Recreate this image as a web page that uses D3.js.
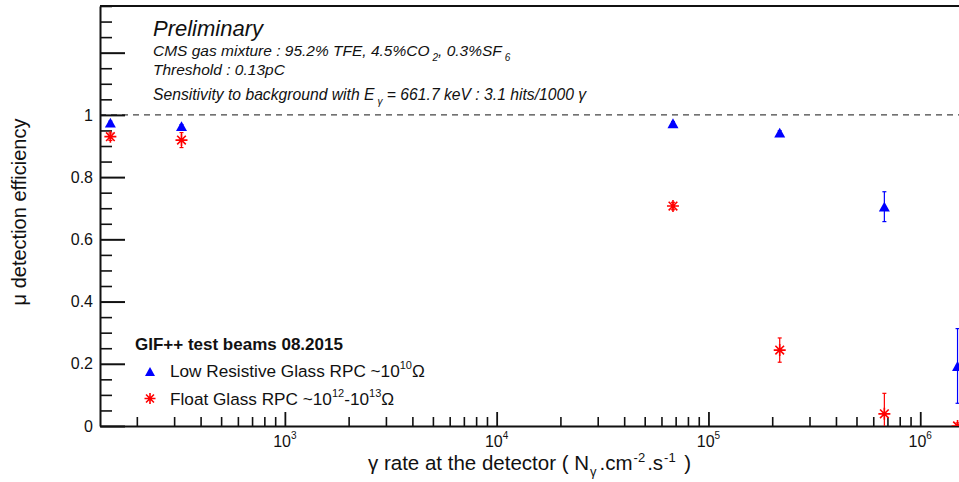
<!DOCTYPE html>
<html>
<head>
<meta charset="utf-8">
<script src="https://cdn.jsdelivr.net/npm/d3@7"></script>
<style>
  html, body { margin: 0; padding: 0; background: #fff; }
  svg { display: block; font-family: "Liberation Sans", Arial, Helvetica, sans-serif; }
</style>
</head>
<body>
<svg id="chart" width="959" height="482"></svg>
<script>
// γ rate at the detector (Nγ.cm^-2.s^-1) for each beam run
const gammaRates = [150, 325, 68000, 217000, 677000, 1500000];

// Low resistive glass RPC efficiency and its uncertainty
const lowResEff = [0.975, 0.964, 0.973, 0.943, 0.705, 0.193];
const lowResErr = [0.005, 0.005, 0.005, 0.006, 0.048, 0.120];

// Float glass RPC efficiency and its uncertainty
const floatEff = [0.930, 0.919, 0.707, 0.244, 0.039, 0.0];
const floatErr = [0.012, 0.024, 0.012, 0.039, 0.066, 0.010];

// Axis ticks
const yMajorTicks = [0, 0.2, 0.4, 0.6, 0.8, 1, 1.2];
const yLabelTicks = [0, 0.2, 0.4, 0.6, 0.8, 1];
const xMajorExponents = [3, 4, 5, 6];

const svg = d3.select("#chart");
const frameL = 100, frameT = 6, frameB = 426, frameR = 984;

const x = d3.scaleLog().domain([134, 2.0e6]).range([frameL, frameR]);
const y = d3.scaleLinear().domain([0, 1.35]).range([frameB, frameT]);

svg.append("defs").append("clipPath").attr("id", "plotclip")
  .append("rect").attr("x", frameL).attr("y", frameT)
  .attr("width", frameR - frameL).attr("height", frameB - frameT);

// Frame top line
svg.append("line").attr("x1", frameL).attr("x2", frameR).attr("y1", frameT).attr("y2", frameT)
  .attr("stroke", "#111").attr("stroke-width", 2);

// Reference line at 100 % efficiency
svg.append("line")
  .attr("x1", frameL).attr("x2", frameR).attr("y1", y(1)).attr("y2", y(1))
  .attr("stroke", "#444").attr("stroke-width", 1.4).attr("stroke-dasharray", "6,5");

// Y axis: major and minor ticks drawn inward
const yMinor = d3.range(0, 28).filter(i => i % 4 !== 0).map(i => i * 0.05);
svg.append("g").attr("transform", `translate(${frameL},0)`)
  .call(d3.axisLeft(y).tickValues(yMinor).tickSizeInner(-12).tickSizeOuter(0).tickFormat(""))
  .call(g => g.select(".domain").remove())
  .call(g => g.selectAll("line").attr("stroke", "#111").attr("stroke-width", 1.6));

svg.append("g").attr("transform", `translate(${frameL},0)`)
  .call(d3.axisLeft(y).tickValues(yMajorTicks).tickSizeInner(-25).tickSizeOuter(0).tickPadding(7)
    .tickFormat(d => yLabelTicks.includes(d) ? d3.format("~g")(d) : ""))
  .call(g => g.select(".domain").attr("stroke", "#111").attr("stroke-width", 2))
  .call(g => g.selectAll("line").attr("stroke", "#111").attr("stroke-width", 2))
  .call(g => g.selectAll("text").attr("font-size", 16).attr("fill", "#111")
    .attr("font-family", "Liberation Sans, Arial, sans-serif"));

// X axis: log scale, ticks drawn inward
const xMinor = [];
for (let e = 2; e <= 6; e++) for (let k = 2; k <= 9; k++) {
  const v = k * Math.pow(10, e);
  if (v >= x.domain()[0] && v <= x.domain()[1]) xMinor.push(v);
}
const xMajor = xMajorExponents.map(e => Math.pow(10, e));
svg.append("g").attr("transform", `translate(0,${frameB})`)
  .call(d3.axisBottom(x).tickValues(xMinor).tickSizeInner(-9).tickSizeOuter(0).tickFormat(""))
  .call(g => g.select(".domain").remove())
  .call(g => g.selectAll("line").attr("stroke", "#111").attr("stroke-width", 1.6));
svg.append("g").attr("transform", `translate(0,${frameB})`)
  .call(d3.axisBottom(x).tickValues(xMajor).tickSizeInner(-14).tickSizeOuter(0).tickFormat(""))
  .call(g => g.select(".domain").attr("stroke", "#111").attr("stroke-width", 2))
  .call(g => g.selectAll("line").attr("stroke", "#111").attr("stroke-width", 1.8));

// X tick labels as powers of ten
const xLab = svg.append("g").attr("font-size", 16).attr("fill", "#111");
xMajorExponents.forEach(e => {
  const t = xLab.append("text").attr("x", x(Math.pow(10, e))).attr("y", 447).attr("text-anchor", "middle");
  t.append("tspan").text("10");
  t.append("tspan").attr("font-size", 10).attr("dy", -8).text(String(e));
});

// Axis titles
const xt = svg.append("text").attr("x", 368).attr("y", 470).attr("font-size", 20.5).attr("fill", "#111");
xt.append("tspan").text("γ rate at the detector ( N");
xt.append("tspan").attr("font-size", 13).attr("dx", 1).attr("dy", 6).text("γ");
xt.append("tspan").attr("dx", 3).attr("dy", -6).text(".cm");
xt.append("tspan").attr("font-size", 13).attr("dx", 1).attr("dy", -8).text("-2");
xt.append("tspan").attr("dx", 2).attr("dy", 8).text(".s");
xt.append("tspan").attr("font-size", 13).attr("dx", 1).attr("dy", -8).text("-1");
xt.append("tspan").attr("dx", 3).attr("dy", 8).text(" )");

svg.append("text").attr("transform", "translate(26,212) rotate(-90)")
  .attr("text-anchor", "middle").attr("font-size", 20).attr("fill", "#111")
  .text("μ detection efficiency");

// Header annotations
const hdr = svg.append("g").attr("font-style", "italic").attr("fill", "#111");
hdr.append("text").attr("x", 153).attr("y", 36).attr("font-size", 22).text("Preliminary");
const l1 = hdr.append("text").attr("x", 153).attr("y", 56).attr("font-size", 15.5);
l1.append("tspan").text("CMS gas mixture : 95.2% TFE, 4.5%CO");
l1.append("tspan").attr("font-size", 10).attr("dx", 3).attr("dy", 5).text("2");
l1.append("tspan").attr("dy", -5).text(", 0.3%SF");
l1.append("tspan").attr("font-size", 10).attr("dx", 3).attr("dy", 5).text("6");
hdr.append("text").attr("x", 153).attr("y", 75).attr("font-size", 15.5).text("Threshold : 0.13pC");
const l3 = hdr.append("text").attr("x", 153).attr("y", 100).attr("font-size", 15.7);
l3.append("tspan").text("Sensitivity to background with E");
l3.append("tspan").attr("font-size", 10).attr("dx", 3).attr("dy", 5).text("γ");
l3.append("tspan").attr("dy", -5).text(" = 661.7 keV : 3.1 hits/1000 γ");

// Marker shapes
function trianglePath(s) {
  const h = s * 0.9;
  return `M0,${-h / 2}L${s / 2},${h / 2}L${-s / 2},${h / 2}Z`;
}
function starPath(s) {
  const r = s / 2, d = r * 0.72;
  return `M${-r},0L${r},0M0,${-r}L0,${r}M${-d},${-d}L${d},${d}M${-d},${d}L${d},${-d}`;
}

// Data layer
const plot = svg.append("g").attr("clip-path", "url(#plotclip)");

function drawSeries(vals, errs, color, marker) {
  const data = gammaRates.map((r, i) => ({ r, v: vals[i], e: errs[i] }));
  const g = plot.append("g");
  const eb = g.selectAll(".eb").data(data).join("g").attr("class", "eb")
    .attr("stroke", color).attr("stroke-width", 1.2);
  eb.append("line")
    .attr("x1", d => x(d.r)).attr("x2", d => x(d.r))
    .attr("y1", d => y(d.v + d.e)).attr("y2", d => y(Math.max(0, d.v - d.e)));
  eb.append("line")
    .attr("x1", d => x(d.r) - 2).attr("x2", d => x(d.r) + 2)
    .attr("y1", d => y(d.v + d.e)).attr("y2", d => y(d.v + d.e));
  eb.filter(d => d.v - d.e > 0).append("line")
    .attr("x1", d => x(d.r) - 2).attr("x2", d => x(d.r) + 2)
    .attr("y1", d => y(d.v - d.e)).attr("y2", d => y(d.v - d.e));
  if (marker === "triangle") {
    g.selectAll(".m").data(data).join("path").attr("class", "m")
      .attr("transform", d => `translate(${x(d.r)},${y(d.v)})`)
      .attr("d", trianglePath(11)).attr("fill", color);
  } else {
    g.selectAll(".m").data(data).join("path").attr("class", "m")
      .attr("transform", d => `translate(${x(d.r)},${y(d.v)})`)
      .attr("d", starPath(12)).attr("fill", "none").attr("stroke", color).attr("stroke-width", 1.6);
  }
}
drawSeries(lowResEff, lowResErr, "#0000ff", "triangle");
drawSeries(floatEff, floatErr, "#ff0000", "star");

// Legend
const leg = svg.append("g").attr("fill", "#111");
leg.append("text").attr("x", 135).attr("y", 350).attr("font-size", 17).attr("font-weight", "bold")
  .text("GIF++ test beams 08.2015");
leg.append("path").attr("transform", "translate(150,371.5)").attr("d", trianglePath(10)).attr("fill", "#0000ff");
leg.append("path").attr("transform", "translate(150,398.5)").attr("d", starPath(11))
  .attr("fill", "none").attr("stroke", "#ff0000").attr("stroke-width", 1.6);
const e1 = leg.append("text").attr("x", 170).attr("y", 377).attr("font-size", 17.2);
e1.append("tspan").text("Low Resistive Glass RPC ~10");
e1.append("tspan").attr("font-size", 11).attr("dy", -8).text("10");
e1.append("tspan").attr("dy", 8).text("Ω");
const e2 = leg.append("text").attr("x", 170).attr("y", 405).attr("font-size", 17.2);
e2.append("tspan").text("Float Glass RPC ~10");
e2.append("tspan").attr("font-size", 11).attr("dy", -8).text("12");
e2.append("tspan").attr("dy", 8).text("-10");
e2.append("tspan").attr("font-size", 11).attr("dy", -8).text("13");
e2.append("tspan").attr("dy", 8).text("Ω");
</script>
</body>
</html>
